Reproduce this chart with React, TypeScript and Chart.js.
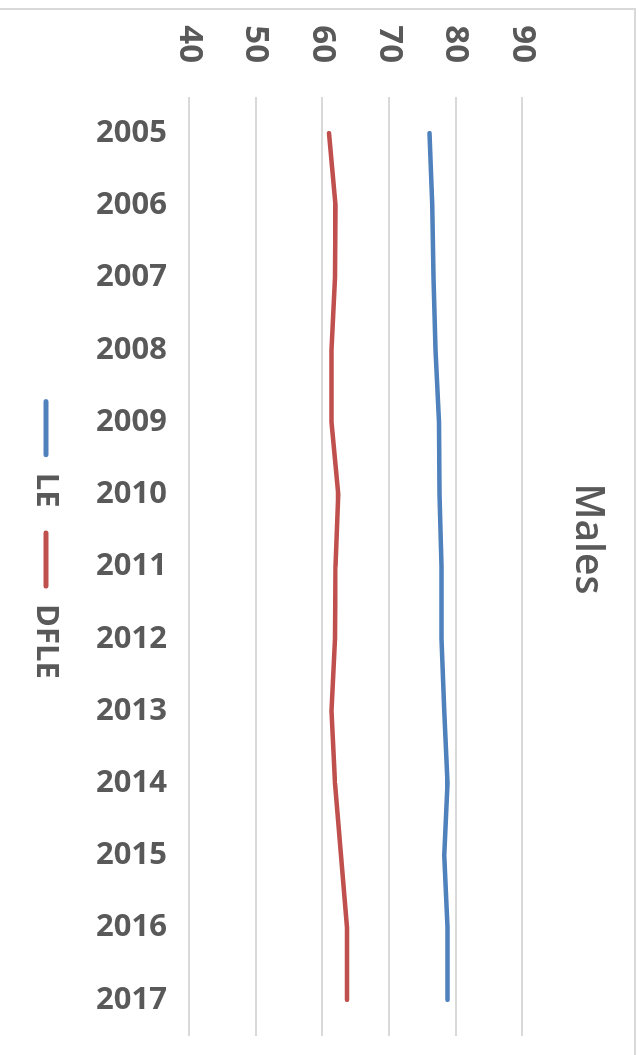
import React, { useEffect, useRef } from 'react';
import { Chart, registerables } from 'chart.js';

Chart.register(...registerables);

// ---- data ----
const years = ['2005', '2006', '2007', '2008', '2009', '2010', '2011', '2012', '2013', '2014', '2015', '2016', '2017'];
const leValues = [76.1, 76.5, 76.7, 77.0, 77.5, 77.6, 77.9, 77.9, 78.3, 78.8, 78.3, 78.8, 78.8];
const dfleValues = [61.0, 62.0, 61.9, 61.4, 61.4, 62.4, 62.0, 61.9, 61.4, 61.9, 62.8, 63.7, 63.7];
const valueMin = 40;
const valueMax = 90;
const valueStep = 10;
const seriesNames = ['LE', 'DFLE'];
const seriesColors = ['#4F81BD', '#C0504D'];
const chartTitle = 'Males';

// canvas drawn in the chart's natural orientation, then turned 90° clockwise
const W = 1078;
const H = 639;
const TEXT = '#595959';
const GRID = '#D9D9D9';

export default function App() {
  const ref = useRef<HTMLCanvasElement>(null);

  useEffect(() => {
    const canvas = ref.current;
    if (!canvas) return;
    Chart.defaults.font.family = "'Open Sans', 'DejaVu Sans', sans-serif";

    const framePlugin = {
      id: 'frame',
      beforeDraw(chart: any) {
        const ctx = chart.ctx;
        ctx.save();
        ctx.fillStyle = '#ffffff';
        ctx.fillRect(0, 0, chart.width, chart.height);
        ctx.strokeStyle = GRID;
        ctx.lineWidth = 2;
        ctx.strokeRect(9, 4, chart.width + 40, chart.height + 40);
        ctx.restore();
      },
    };

    const chart = new Chart(canvas, {
      type: 'line',
      data: {
        labels: years,
        datasets: [
          {
            label: seriesNames[0],
            data: leValues,
            borderColor: seriesColors[0],
            backgroundColor: seriesColors[0],
            borderWidth: 4.5,
            pointRadius: 0,
            tension: 0,
            borderCapStyle: 'round',
            borderJoinStyle: 'round',
            yAxisID: 'y',
          },
          {
            label: seriesNames[1],
            data: dfleValues,
            borderColor: seriesColors[1],
            backgroundColor: seriesColors[1],
            borderWidth: 4.5,
            pointRadius: 0,
            tension: 0,
            borderCapStyle: 'round',
            borderJoinStyle: 'round',
            yAxisID: 'y',
          },
        ],
      },
      options: {
        responsive: false,
        animation: false,
        devicePixelRatio: 1,
        layout: { padding: { left: 0, right: 0, top: 0, bottom: 20.5 } },
        plugins: {
          title: {
            display: true,
            text: chartTitle,
            color: TEXT,
            font: { size: 39, weight: '600' },
            padding: { top: 28, bottom: 42 },
          },
          legend: {
            position: 'bottom',
            labels: {
              boxWidth: 58,
              boxHeight: 5,
              padding: 23,
              color: TEXT,
              font: { size: 31, weight: 'bold' },
              useBorderRadius: true,
              borderRadius: 2.5,
              generateLabels: (c: any) =>
                c.data.datasets.map((ds: any, i: number) => ({
                  text: ds.label,
                  fillStyle: ds.borderColor,
                  strokeStyle: ds.borderColor,
                  lineWidth: 0,
                  fontColor: TEXT,
                  datasetIndex: i,
                  hidden: false,
                  borderRadius: 2.5,
                })),
            },
          },
          tooltip: { enabled: false },
        },
        scales: {
          x: {
            type: 'category',
            offset: true,
            grid: { display: false },
            border: { display: false },
            ticks: {
              autoSkip: false,
              minRotation: 90,
              maxRotation: 90,
              padding: 14,
              color: TEXT,
              font: { size: 31, weight: 'bold' },
            },
            afterFit: (s: any) => {
              s.height = 104.5;
            },
          },
          y: {
            type: 'linear',
            position: 'left',
            min: valueMin,
            max: valueMax,
            ticks: {
              stepSize: valueStep,
              padding: 34,
              color: TEXT,
              font: { size: 33, weight: 'bold' },
            },
            grid: { color: GRID, lineWidth: 2, drawTicks: false },
            border: { display: false },
            afterFit: (s: any) => {
              s.width = 97;
            },
          },
          pad: {
            type: 'linear',
            position: 'right',
            display: true,
            grid: { display: false },
            ticks: { display: false },
            border: { display: false },
            afterFit: (s: any) => {
              s.width = 42;
            },
          },
        },
      } as any,
      plugins: [framePlugin],
    });

    return () => chart.destroy();
  }, []);

  return (
    <div
      style={{
        position: 'absolute',
        left: 0,
        top: 0,
        width: 639,
        height: 1055,
        overflow: 'hidden',
        background: '#ffffff',
      }}
    >
      <div
        style={{
          position: 'absolute',
          left: 0,
          top: 0,
          width: W,
          height: H,
          transformOrigin: '0 0',
          transform: 'translate(639px, 0px) rotate(90deg)',
        }}
      >
        <canvas ref={ref} width={W} height={H} style={{ display: 'block', width: W, height: H }} />
      </div>
    </div>
  );
}
